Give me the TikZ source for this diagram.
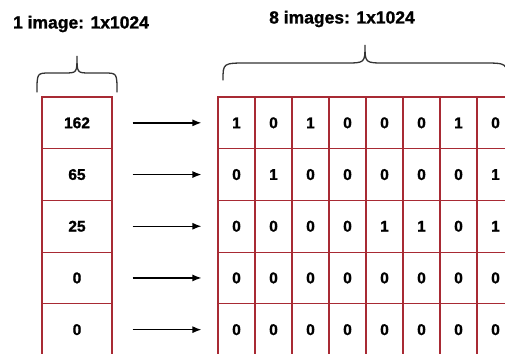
\documentclass[tikz,border=0pt]{standalone}
\usepackage{fontspec}
\setmainfont{Liberation Sans}
\newfontfamily\heavyfont{Liberation Sans Bold}[FakeBold=1.2]
\usetikzlibrary{arrows.meta}
\definecolor{gridred}{RGB}{168,42,52}
\begin{document}
\begin{tikzpicture}[x=1pt,y=-1pt,
  cell/.style={draw=gridred,line width=1.1pt,minimum height=51.7pt,inner sep=0pt,
    font=\heavyfont\fontsize{15.5}{16}\selectfont},
  lcell/.style={cell,minimum width=70pt},
  rcell/.style={cell,minimum width=37pt},
  arr/.style={draw=black,line width=1.3pt,-{Latex[length=9pt,width=7pt]},shorten <=20pt,shorten >=16pt},
  bracepath/.style={draw=black!80,line width=1.3pt,line cap=round},
  title/.style={font=\heavyfont\fontsize{17.5}{18}\selectfont,inner sep=0pt}]
\clip (0,0) rectangle (505,353);
\fill[white] (0,0) rectangle (505,353);
% titles
\node[title] (t1) at (81,24) {1 image: 1x1024};
\node[title] (t2) at (342,19) {8 images: 1x1024};
% braces
\draw[bracepath] (37,92) .. controls (37,73) .. (50,73) -- (64,73) .. controls (77,73) .. (77,56)
  .. controls (77,73) .. (90,73) -- (104,73) .. controls (117,73) .. (117,92);
\draw[bracepath] (223,80) .. controls (223,63) .. (248,63) -- (345,63) .. controls (365,63) .. (365,45)
  .. controls (365,63) .. (385,63) -- (482,63) .. controls (507,63) .. (507,80);
% left column
\foreach \v [count=\i] in {162,65,25,0,0} {
  \node[lcell] (L\i) at (77,{97+51.7*(\i-0.5)}) {\v};
}
% right grid
\foreach \row [count=\i] in {{1,0,1,0,0,0,1,0},{0,1,0,0,0,0,0,1},{0,0,0,0,1,1,0,1},{0,0,0,0,0,0,0,0},{0,0,0,0,0,0,0,0}} {
  \foreach \b [count=\j] in \row {
    \node[rcell] (R\i-\j) at ({218+37*(\j-0.5)},{97+51.7*(\i-0.5)}) {\b};
  }
}
% arrows
\foreach \i in {1,...,5} {
  \draw[arr] (L\i.east) -- (R\i-1.west);
}
\end{tikzpicture}
\end{document}
